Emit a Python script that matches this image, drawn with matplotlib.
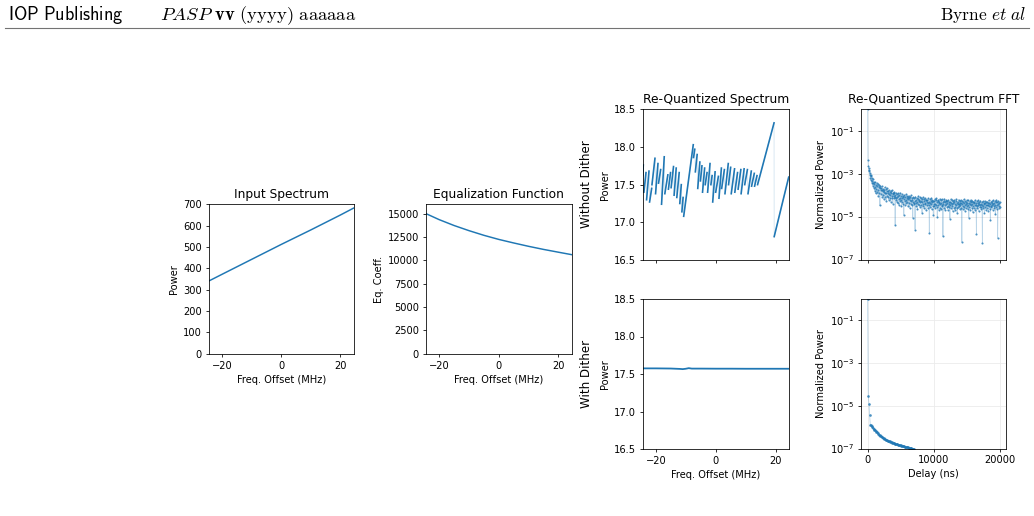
import numpy as np
import matplotlib
matplotlib.use("Agg")
import matplotlib.pyplot as plt
from matplotlib.ticker import FixedLocator, NullLocator, FormatStrFormatter

# ---------------- data ----------------
freq_input = [-24.4, -20, -15, -10, -5, 0, 5, 10, 15, 20, 24.4]
power_input = [341, 372, 407, 442, 477, 512, 546, 580, 615, 650, 682]
eq_coeff = [15000, 14360, 13730, 13180, 12680, 12240, 11860, 11500, 11170, 10870, 10610]

# re-quantized spectrum without dither: (start, end) of each rising tooth
nodither_x = [-24.4, -24.2, -24.0, -23.3, -23.1, -22.3, -22.1, -21.4, -21.3, -20.3,
              -20.1, -19.3, -19.1, -18.4, -18.1, -17.2, -17.0, -16.0, -15.8, -15.1,
              -14.9, -14.1, -13.9, -13.2, -13.0, -12.2, -12.0, -11.5, -11.3, -10.9,
              -10.7, -7.5, -7.4, -7.0, -6.8, -6.2, -6.0, -5.3, -5.1, -4.6,
              -4.4, -3.7, -3.5, -2.9, -2.7, -1.9, -1.6, -1.2, -1.0, -0.2,
              0.0, 0.9, 1.1, 1.9, 2.0, 2.9, 3.1, 4.2, 4.3, 5.0,
              5.2, 6.3, 6.4, 7.3, 7.5, 8.4, 8.5, 9.5, 9.7, 10.6,
              10.8, 11.9, 12.0, 12.9, 13.0, 13.8, 14.0, 19.5, 19.55, 24.4]
nodither_y = [17.62, 17.76, 17.40, 17.66, 17.30, 17.68, 17.27, 17.45, 17.50, 17.85,
              17.38, 17.78, 17.52, 17.70, 17.24, 17.87, 17.38, 17.63, 17.44, 17.66,
              17.46, 17.74, 17.36, 17.72, 17.33, 17.66, 17.25, 17.50, 17.14, 17.33,
              17.08, 18.03, 17.86, 17.97, 17.67, 17.90, 17.45, 17.80, 17.55, 17.75,
              17.40, 17.72, 17.50, 17.66, 17.40, 17.78, 17.50, 17.62, 17.27, 17.67,
              17.40, 17.61, 17.32, 17.72, 17.45, 17.70, 17.38, 17.78, 17.50, 17.73,
              17.38, 17.71, 17.40, 17.66, 17.44, 17.70, 17.38, 17.71, 17.50, 17.70,
              17.38, 17.68, 17.48, 17.65, 17.48, 17.62, 17.50, 18.32, 16.81, 17.60]

dither_x = [-24.4, -20, -15, -12, -11, -10, -9, -8, -5, 0, 5, 10, 15, 20, 24.4]
dither_y = [17.575, 17.575, 17.573, 17.568, 17.565, 17.570, 17.578, 17.572, 17.572,
            17.571, 17.571, 17.570, 17.570, 17.570, 17.570]

fft_nodither_step_ns = 50
fft_nodither = [
    1.0, 4.2e-3, 2.4e-3, 1.9e-3, 1.3e-3, 1.5e-3, 9.0e-4, 1.1e-3, 6.5e-4, 8.5e-4,
    5.0e-4, 7.5e-4, 3.8e-4, 6.0e-4, 4.5e-4, 2.8e-4, 5.5e-4, 3.5e-4, 4.2e-4, 2.2e-4,
    3.4e-4, 1.6e-4, 4.0e-4, 2.5e-4, 1.2e-4, 3.0e-4, 2.0e-4, 3.6e-4, 1.4e-4, 2.6e-4,
    1.8e-4, 3.2e-4, 9.0e-5, 2.3e-4, 2.9e-4, 1.3e-4, 2.1e-4, 3.3e-5, 2.7e-4, 1.7e-4,
    2.2e-4, 1.1e-4, 1.7e-4, 2.6e-4, 8.0e-5, 1.5e-4, 2.0e-4, 1.0e-4, 1.8e-4, 6.5e-5,
    1.4e-4, 2.3e-4, 1.2e-4, 8.5e-5, 1.9e-4, 1.3e-4, 5.5e-5, 1.6e-4, 2.1e-4, 9.5e-5,
    1.5e-4, 8.0e-5, 1.2e-4, 1.8e-4, 6.0e-5, 1.1e-4, 1.4e-4, 7.5e-5, 1.0e-4, 1.6e-4,
    5.0e-5, 1.3e-4, 9.0e-5, 1.7e-4, 7.0e-5, 1.1e-4, 4.0e-5, 1.2e-4, 9.5e-5, 1.4e-4,
    7.0e-5, 1.2e-4, 8.5e-5, 4.0e-6, 1.0e-4, 6.0e-5, 1.3e-4, 7.5e-5, 5.0e-5, 1.1e-4,
    8.0e-5, 4.5e-5, 9.5e-5, 1.2e-4, 6.5e-5, 3.5e-5, 1.0e-4, 7.0e-5, 1.3e-4, 5.5e-5,
    9.0e-5, 6.0e-5, 3.0e-5, 1.1e-4, 7.5e-5, 5.0e-5, 9.5e-5, 4.0e-5, 8.0e-5, 1.2e-5,
    6.5e-5, 1.0e-4, 5.5e-5, 3.5e-5, 8.5e-5, 6.0e-5, 1.1e-4, 4.5e-5, 7.0e-5, 9.0e-5,
    5.0e-5, 8.0e-5, 3.0e-5, 6.5e-5, 9.5e-5, 4.5e-5, 7.0e-5, 2.5e-5, 6.0e-5, 8.5e-5,
    4.0e-5, 1.0e-4, 5.5e-5, 3.5e-5, 7.5e-5, 6.0e-5, 9.0e-6, 5.0e-5, 8.0e-5, 4.2e-5,
    7.0e-5, 3.8e-5, 5.5e-5, 2.5e-6, 8.5e-5, 4.5e-5, 6.2e-5, 3.0e-5, 7.5e-5, 5.0e-5,
    2.2e-5, 6.8e-5, 4.0e-5, 9.0e-5, 5.5e-5, 3.4e-5, 6.0e-5, 4.6e-5, 8.0e-5, 2.8e-5,
    5.5e-5, 7.5e-5, 3.6e-5, 4.8e-5, 1.5e-5, 6.5e-5, 4.0e-5, 8.2e-5, 3.0e-5, 5.2e-5,
    6.8e-5, 2.4e-5, 4.4e-5, 7.2e-5, 3.8e-5, 5.8e-5, 2.0e-5, 6.2e-5, 4.6e-5, 3.3e-5,
    6.0e-5, 4.2e-5, 2.6e-5, 7.0e-5, 3.5e-5, 5.0e-5, 1.8e-6, 4.4e-5, 6.5e-5, 2.9e-5,
    5.4e-5, 3.8e-5, 7.4e-5, 2.2e-5, 4.8e-5, 6.0e-5, 3.2e-5, 5.6e-5, 1.2e-5, 4.0e-5,
    5.2e-5, 3.0e-5, 6.6e-5, 4.0e-5, 2.4e-5, 5.8e-5, 3.6e-5, 7.0e-5, 2.8e-5, 4.6e-5,
    1.0e-5, 5.4e-5, 3.4e-5, 6.2e-5, 4.2e-5, 2.0e-5, 5.0e-5, 3.8e-5, 6.8e-5, 2.6e-5,
    4.4e-5, 5.8e-5, 2.2e-5, 3.6e-5, 6.4e-5, 3.0e-5, 4.8e-5, 1.2e-6, 4.0e-5, 5.6e-5,
    2.6e-5, 6.8e-5, 3.4e-5, 4.6e-5, 2.0e-5, 5.2e-5, 3.8e-5, 6.0e-5, 2.8e-5, 4.2e-5,
    5.4e-5, 3.2e-5, 2.0e-5, 6.2e-5, 4.0e-5, 2.8e-5, 5.0e-5, 3.6e-5, 8.0e-6, 4.6e-5,
    6.6e-5, 2.4e-5, 4.2e-5, 3.0e-5, 5.8e-5, 3.8e-5, 1.8e-5, 5.2e-5, 4.4e-5, 2.6e-5,
    4.8e-5, 6.0e-5, 2.9e-5, 3.9e-5, 2.1e-5, 5.4e-5, 3.4e-5, 6.6e-5, 2.5e-5, 4.3e-5,
    1.5e-5, 5.0e-5, 3.7e-5, 2.7e-5, 6.2e-5, 4.0e-5, 3.1e-5, 5.6e-5, 2.2e-5, 4.5e-5,
    3.5e-5, 5.9e-5, 2.6e-5, 4.4e-5, 6.5e-7, 3.8e-5, 5.2e-5, 2.3e-5, 4.7e-5, 3.2e-5,
    6.3e-5, 2.8e-5, 4.1e-5, 1.9e-5, 5.5e-5, 3.6e-5, 4.9e-5, 2.4e-5, 3.9e-5, 6.0e-5,
    3.0e-5, 4.5e-5, 2.2e-5, 5.8e-5, 3.4e-5, 9.0e-6, 4.2e-5, 2.7e-5, 5.2e-5, 3.7e-5,
    2.0e-5, 6.1e-5, 3.3e-5, 4.6e-5, 2.5e-5, 5.5e-5, 3.9e-5, 1.6e-5, 4.8e-5, 3.1e-5,
    5.0e-5, 2.6e-5, 4.1e-5, 3.3e-5, 6.0e-5, 2.1e-5, 4.5e-5, 3.6e-5, 1.6e-6, 3.0e-5,
    5.3e-5, 2.4e-5, 4.3e-5, 3.5e-5, 5.8e-5, 1.8e-5, 3.9e-5, 4.9e-5, 2.7e-5, 3.4e-5,
    5.6e-5, 2.9e-5, 4.0e-5, 2.2e-5, 4.7e-5, 3.5e-5, 6.0e-7, 3.1e-5, 5.1e-5, 2.5e-5,
    4.4e-5, 3.7e-5, 1.4e-5, 5.4e-5, 2.8e-5, 4.1e-5, 3.3e-5, 2.0e-5, 4.8e-5, 3.6e-5,
    2.6e-5, 5.0e-5, 3.4e-5, 4.2e-5, 1.9e-5, 5.7e-5, 3.0e-5, 4.5e-5, 2.3e-5, 3.8e-5,
    7.0e-6, 4.9e-5, 3.2e-5, 2.7e-5, 5.3e-5, 3.6e-5, 4.4e-5, 2.1e-5, 3.9e-5, 5.8e-5,
    3.1e-5, 4.3e-5, 2.4e-5, 5.1e-5, 3.5e-5, 1.3e-5, 4.6e-5, 2.8e-5, 6.0e-5, 3.3e-5,
    2.2e-5, 4.8e-5, 1.0e-6, 3.7e-5, 5.4e-5, 2.6e-5, 4.1e-5, 3.0e-5, 4.9e-5, 2.9e-5,
]
fft_dither_step_ns = 100
fft_dither = [
    1.0, 2.8e-5, 1.2e-5, 3.5e-6, 1.3e-6, 1.2e-6, 1.1e-6, 1.0e-6, 9.2e-7, 8.4e-7,
    7.6e-7, 7.0e-7, 6.5e-7, 6.0e-7, 5.6e-7, 5.2e-7, 4.8e-7, 4.5e-7, 4.2e-7, 3.9e-7,
    3.7e-7, 3.5e-7, 3.3e-7, 3.15e-7, 3.0e-7, 2.85e-7, 2.72e-7, 2.6e-7, 2.5e-7, 2.42e-7,
    2.35e-7, 2.27e-7, 2.2e-7, 2.13e-7, 2.06e-7, 2.0e-7, 1.94e-7, 1.88e-7, 1.83e-7, 1.78e-7,
    1.74e-7, 1.70e-7, 1.66e-7, 1.62e-7, 1.58e-7, 1.55e-7, 1.52e-7, 1.49e-7, 1.46e-7, 1.43e-7,
    1.40e-7, 1.37e-7, 1.34e-7, 1.31e-7, 1.28e-7, 1.26e-7, 1.23e-7, 1.21e-7, 1.18e-7, 1.16e-7,
    1.14e-7, 1.12e-7, 1.10e-7, 1.08e-7, 1.06e-7, 1.04e-7, 1.02e-7, 1.0e-7, 9.8e-8, 9.6e-8,
    9.4e-8,
]

# ---------------- style ----------------
s = 0.71
plt.rcParams.update({
    "font.size": 10 * s,
    "axes.titlesize": 8.85,
    "axes.labelsize": 10 * s,
    "xtick.labelsize": 10 * s,
    "ytick.labelsize": 10 * s,
    "axes.linewidth": 0.8 * s,
    "xtick.major.width": 0.8 * s,
    "ytick.major.width": 0.8 * s,
    "xtick.major.size": 3.5 * s,
    "ytick.major.size": 3.5 * s,
    "xtick.major.pad": 3.5 * s,
    "ytick.major.pad": 3.5 * s,
    "axes.titlepad": 6 * s,
    "axes.labelpad": 4 * s,
})
C = "#1f77b4"
LW = 1.5 * s

W, H = 1034, 516
fig = plt.figure(figsize=(W / 100, H / 100), dpi=100)


def rect(l, t, r, b):
    return [l / W, 1 - b / H, (r - l) / W, (b - t) / H]


# header
fig.text(8 / W, 1 - 20 / H, r"$\mathsf{IOP\ Publishing}$", fontsize=13.1,
         math_fontfamily="cm", va="baseline", ha="left")
fig.text(160 / W, 1 - 20 / H, r"$\mathit{PASP}\ \mathbf{vv}\ \mathrm{(yyyy)\ aaaaaa}$",
         fontsize=13.4, math_fontfamily="cm", va="baseline", ha="left")
fig.text(1026 / W, 1 - 20 / H, r"$\mathrm{Byrne}\ \mathit{et\ al}$", fontsize=12.6,
         math_fontfamily="cm", va="baseline", ha="right")
fig.add_artist(plt.Line2D([5 / W, 1029 / W], [1 - 28 / H, 1 - 28 / H],
                          color="0.45", lw=0.8, transform=fig.transFigure))

# Input spectrum
ax1 = fig.add_axes(rect(209, 204.3, 353.5, 353.7))
ax1.plot(freq_input, power_input, color=C, lw=LW)
ax1.set_xlim(-24.4, 24.4)
ax1.set_ylim(0, 700)
ax1.set_yticks(range(0, 701, 100))
ax1.set_xticks([-20, 0, 20])
ax1.set_title("Input Spectrum")
ax1.set_ylabel("Power")
ax1.set_xlabel("Freq. Offset (MHz)")

# Equalization function
ax2 = fig.add_axes(rect(426, 204.3, 571.5, 353.7))
ax2.plot(freq_input, eq_coeff, color=C, lw=LW)
ax2.set_xlim(-24.4, 24.4)
ax2.set_ylim(0, 16000)
ax2.set_yticks(range(0, 15001, 2500))
ax2.set_xticks([-20, 0, 20])
ax2.set_title("Equalization Function")
ax2.set_ylabel("Eq. Coeff.")
ax2.set_xlabel("Freq. Offset (MHz)")

# Re-quantized spectrum
ax3t = fig.add_axes(rect(642.7, 109.3, 788.7, 260))
ax3b = fig.add_axes(rect(642.7, 299, 788.7, 449))
# faint connecting line (drops), solid rising teeth
ax3t.plot(nodither_x, nodither_y, color=C, lw=0.6, alpha=0.2)
tx, ty = [], []
for i in range(0, len(nodither_x) - 1, 2):
    tx += [nodither_x[i], nodither_x[i + 1], np.nan]
    ty += [nodither_y[i], nodither_y[i + 1], np.nan]
ax3t.plot(tx, ty, color=C, lw=LW * 1.1)
ax3b.plot(dither_x, dither_y, color=C, lw=LW * 1.2)
for ax in (ax3t, ax3b):
    ax.set_xlim(-24.4, 24.4)
    ax.set_ylim(16.5, 18.5)
    ax.set_yticks([16.5, 17.0, 17.5, 18.0, 18.5])
    ax.yaxis.set_major_formatter(FormatStrFormatter("%.1f"))
    ax.set_xticks([-20, 0, 20])
    ax.set_ylabel("Power")
ax3t.tick_params(labelbottom=False)
ax3t.set_title("Re-Quantized Spectrum")
ax3b.set_xlabel("Freq. Offset (MHz)")
fig.text(587 / W, 1 - 184.6 / H, "Without Dither", rotation=90, fontsize=12 * s,
         ha="center", va="center")
fig.text(587 / W, 1 - 374 / H, "With Dither", rotation=90, fontsize=12 * s,
         ha="center", va="center")

# FFT panels
ax4t = fig.add_axes(rect(861, 109.3, 1006, 259.5))
ax4b = fig.add_axes(rect(861, 298.5, 1006, 448.5))
for ax, vals, step, ms in ((ax4t, fft_nodither, fft_nodither_step_ns, 1.5),
                           (ax4b, fft_dither, fft_dither_step_ns, 1.9)):
    d = np.arange(len(vals)) * step
    ax.plot(d, vals, color=C, lw=0.6, alpha=0.3)
    ax.plot(d, vals, color=C, lw=0, marker="o", ms=ms, mew=0, alpha=0.8)
    ax.set_yscale("log")
    ax.set_ylim(1e-7, 1)
    ax.yaxis.set_major_locator(FixedLocator([1e-7, 1e-5, 1e-3, 1e-1]))
    ax.yaxis.set_minor_locator(NullLocator())
    ax.set_xlim(-1000, 20860)
    ax.set_xticks([0, 10000, 20000])
    ax.grid(True, color="0.92", lw=0.6)
    ax.set_axisbelow(True)
    ax.set_ylabel("Normalized Power")
ax4t.tick_params(labelbottom=False)
ax4t.set_title("Re-Quantized Spectrum FFT")
ax4b.set_xlabel("Delay (ns)")

fig.savefig("out.png", dpi=100)
